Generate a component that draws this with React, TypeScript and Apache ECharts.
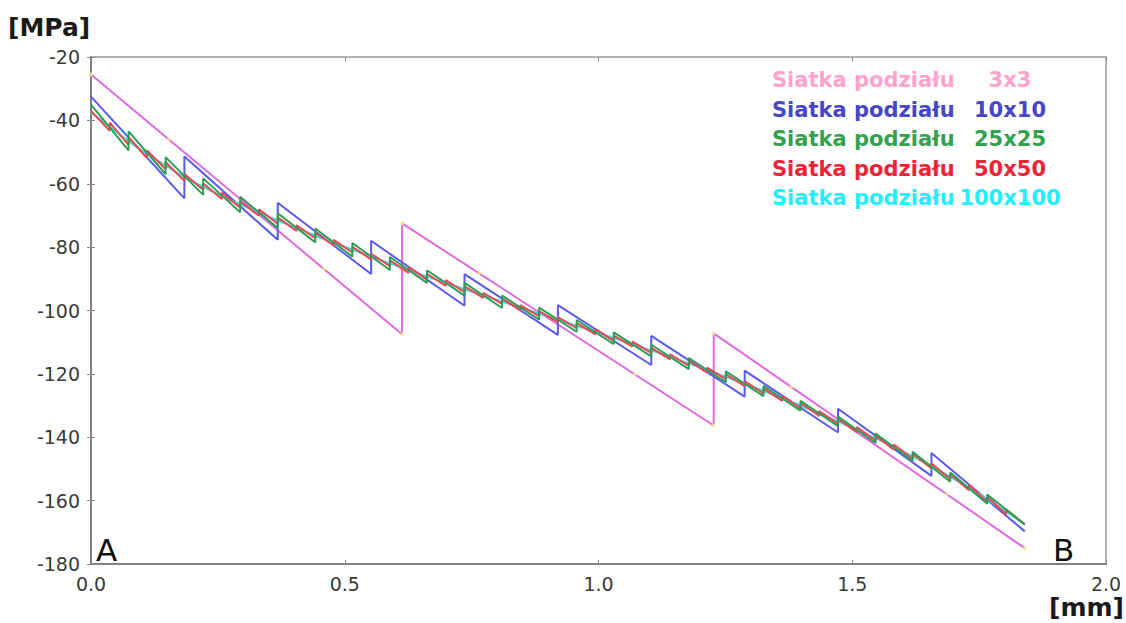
import React, { useEffect, useRef } from "react";
import * as echarts from "echarts";

// ---------- data ----------
const xTicks = ["0.0", "0.5", "1.0", "1.5", "2.0"];
const yTickValues = [-20, -40, -60, -80, -100, -120, -140, -160, -180];

// 3x3 mesh (element boundaries, start/end value in each element)
const pinkNodes = [0, 0.613, 1.227, 1.84];
const pinkStart = [-25.5, -72.5, -107.2];
const pinkEnd = [-107.5, -136.3, -175.0];
const pinkMarkX = [0, 0.153, 0.459, 0.613, 0.613, 0.766, 1.072, 1.227, 1.227, 1.379, 1.686, 1.84];
const pinkMarkY = [-25.5, -46.0, -87.0, -107.5, -72.5, -88.0, -120.0, -136.3, -107.2, -124.2, -158.0, -175.0];

// 10x10 mesh
const blueNodes = [0, 0.184, 0.368, 0.552, 0.736, 0.92, 1.104, 1.288, 1.472, 1.656, 1.84];
const blueStart = [-32.5, -51.4, -66.0, -78.0, -88.5, -98.3, -108.0, -119.0, -131.0, -145.0];
const blueEnd = [-64.6, -77.7, -88.5, -98.5, -107.7, -117.2, -127.2, -138.5, -152.2, -169.7];

// 25x25 mesh
const greenNodes = [0, 0.074, 0.147, 0.221, 0.294, 0.368, 0.442, 0.515, 0.589, 0.662, 0.736, 0.81, 0.883,
  0.957, 1.03, 1.104, 1.178, 1.251, 1.325, 1.398, 1.472, 1.546, 1.619, 1.693, 1.766, 1.84];
const greenStart = [-35.0, -43.5, -51.6, -58.3, -64.1, -69.3, -74.1, -78.7, -83.1, -87.3, -91.3, -95.3, -99.1,
  -103.0, -106.9, -110.8, -115.0, -119.2, -123.8, -128.5, -133.5, -138.8, -144.6, -151.1, -158.1];
const greenEnd = [-49.5, -57.0, -63.5, -69.0, -74.0, -78.5, -83.0, -87.2, -91.3, -95.3, -99.2, -102.9, -106.7,
  -110.6, -114.5, -118.5, -122.6, -127.0, -131.6, -136.5, -141.8, -147.5, -154.0, -161.0, -167.5];

// 50x50 mesh
const redNodes = [0, 0.037, 0.074, 0.11, 0.147, 0.184, 0.221, 0.258, 0.294, 0.331, 0.368, 0.405, 0.442, 0.478,
  0.515, 0.552, 0.589, 0.626, 0.662, 0.699, 0.736, 0.773, 0.81, 0.846, 0.883, 0.92, 0.957, 0.994, 1.03, 1.067,
  1.104, 1.141, 1.178, 1.214, 1.251, 1.288, 1.325, 1.362, 1.398, 1.435, 1.472, 1.509, 1.546, 1.582, 1.619,
  1.656, 1.693, 1.73, 1.766, 1.803, 1.84];
const redStart = [-37.0, -40.7, -45.3, -49.4, -53.2, -56.9, -59.9, -62.8, -65.6, -68.1, -70.6, -73.1, -75.4,
  -77.7, -79.9, -82.1, -84.2, -86.3, -88.4, -90.4, -92.4, -94.4, -96.3, -98.3, -100.2, -102.1, -104.0, -105.9,
  -107.9, -109.8, -111.8, -113.8, -115.9, -118.0, -120.1, -122.3, -124.6, -126.9, -129.2, -131.7, -134.2,
  -136.8, -139.5, -142.3, -145.2, -148.2, -151.6, -155.1, -158.8, -162.7];
const redEnd = [-43.3, -47.7, -51.8, -55.4, -59.1, -61.9, -64.8, -67.6, -70.1, -72.6, -74.9, -77.2, -79.5,
  -81.7, -83.9, -86.0, -88.1, -90.2, -92.2, -94.2, -96.0, -97.9, -99.9, -101.8, -103.7, -105.6, -107.5, -109.5,
  -111.4, -113.4, -115.4, -117.5, -119.6, -121.7, -123.9, -126.2, -128.5, -130.8, -133.3, -135.8, -138.4,
  -141.1, -143.9, -146.8, -149.8, -153.2, -156.7, -160.4, -164.3, -167.5];

// 100x100 mesh (read as a nearly smooth curve)
const cyanX = [0, 0.092, 0.184, 0.276, 0.368, 0.46, 0.552, 0.644, 0.736, 0.828, 0.92, 1.012, 1.104, 1.196,
  1.288, 1.38, 1.472, 1.564, 1.656, 1.748, 1.84];
const cyanY = [-37.5, -48.7, -58.0, -65.3, -71.6, -77.5, -83.0, -88.3, -93.3, -98.1, -102.9, -107.7, -112.6,
  -117.7, -123.1, -128.8, -135.0, -141.6, -149.0, -157.6, -167.5];

const legendNames = ["3x3", "10x10", "25x25", "50x50", "100x100"];
const legendColors = ["#ffa3cc", "#4646c8", "#34a24c", "#ee2436", "#22eeff"];

function sawtooth(nodes: number[], starts: number[], ends: number[]) {
  const out: number[][] = [];
  for (let i = 0; i < starts.length; i++) {
    out.push([nodes[i], starts[i]]);
    out.push([nodes[i + 1], ends[i]]);
  }
  return out;
}

export default function App() {
  const ref = useRef<HTMLDivElement>(null);
  useEffect(() => {
    if (!ref.current) return;
    const chart = echarts.init(ref.current, null, { renderer: "svg" });
    const labelFont = "DejaVu Sans";
    const legendRowY = [80, 109.5, 139, 168.5, 198];
    const graphics: any[] = [];
    legendNames.forEach((n, i) => {
      graphics.push({
        type: "text", x: 772, y: legendRowY[i],
        style: { text: "Siatka podziału", fill: legendColors[i], font: "bold 21px 'DejaVu Sans'", verticalAlign: "middle" },
      });
      graphics.push({
        type: "text", x: 1010, y: legendRowY[i],
        style: { text: n, fill: legendColors[i], font: "bold 21px 'DejaVu Sans'", align: "center", verticalAlign: "middle" },
      });
    });
    graphics.push({ type: "text", x: 8, y: 27, style: { text: "[MPa]", fill: "#1a1a1a", font: "bold 25px 'DejaVu Sans'", verticalAlign: "middle" } });
    graphics.push({ type: "text", x: 1124, y: 607, style: { text: "[mm]", fill: "#1a1a1a", font: "bold 25px 'DejaVu Sans'", align: "right", verticalAlign: "middle" } });
    graphics.push({ type: "text", x: 96, y: 565, style: { text: "A", fill: "#111", font: "31px 'DejaVu Sans'", verticalAlign: "bottom" } });
    graphics.push({ type: "text", x: 1053, y: 565, style: { text: "B", fill: "#111", font: "31px 'DejaVu Sans'", verticalAlign: "bottom" } });

    const axisCommon = {
      type: "value",
      splitLine: { show: false },
    };
    chart.setOption({
      animation: false,
      backgroundColor: "#ffffff",
      grid: { left: 91, right: 20, top: 57, bottom: 59, show: true, borderColor: "#9a9a9a", borderWidth: 1.5, backgroundColor: "transparent" },
      xAxis: [
        {
          ...axisCommon, min: 0, max: 2, interval: 0.5, position: "bottom",
          axisLine: { show: true, onZero: false, lineStyle: { color: "#808080", width: 2 } },
          axisTick: { show: true, inside: true, length: 4, lineStyle: { color: "#888" } },
          axisLabel: { margin: 10, color: "#3a3a3a", fontFamily: labelFont, fontSize: 19, formatter: (v: number) => xTicks[Math.round(v / 0.5)] ?? "" },
        },
        {
          ...axisCommon, min: 0, max: 2, interval: 0.5, position: "top",
          axisLine: { show: false },
          axisTick: { show: true, inside: true, length: 4, lineStyle: { color: "#888" } },
          axisLabel: { show: false },
        },
      ],
      yAxis: [
        {
          ...axisCommon, min: -180, max: -20, interval: 20, position: "left",
          axisLine: { show: true, onZero: false, lineStyle: { color: "#808080", width: 2 } },
          axisTick: { show: true, inside: true, length: 4, lineStyle: { color: "#888" } },
          axisLabel: { margin: 11, color: "#3a3a3a", fontFamily: labelFont, fontSize: 19, formatter: (v: number) => (yTickValues.includes(v) ? String(v) : "") },
        },
        {
          ...axisCommon, min: -180, max: -20, interval: 20, position: "right",
          axisLine: { show: false },
          axisTick: { show: true, inside: true, length: 4, lineStyle: { color: "#888" } },
          axisLabel: { show: false },
        },
      ],
      series: [
        {
          name: "3x3", type: "line", data: sawtooth(pinkNodes, pinkStart, pinkEnd), showSymbol: false,
          lineStyle: { color: "#dd6ae0", width: 2 }, z: 2,
        },
        {
          name: "3x3 points", type: "scatter", data: pinkMarkX.map((x, i) => [x, pinkMarkY[i]]),
          symbol: "diamond", symbolSize: 5, itemStyle: { color: "#f2ee8a" }, z: 3,
        },
        {
          name: "10x10", type: "line", data: sawtooth(blueNodes, blueStart, blueEnd), showSymbol: false,
          lineStyle: { color: "#5a5af0", width: 2 }, z: 4,
        },
        {
          name: "100x100", type: "line", data: cyanX.map((x, i) => [x, cyanY[i]]), showSymbol: false,
          lineStyle: { color: "#3adcdc", width: 2 }, z: 5,
        },
        {
          name: "50x50", type: "line", data: sawtooth(redNodes, redStart, redEnd), showSymbol: false,
          lineStyle: { color: "#ee4455", width: 2 }, z: 6,
        },
        {
          name: "25x25", type: "line", data: sawtooth(greenNodes, greenStart, greenEnd), showSymbol: false,
          lineStyle: { color: "#2f9e55", width: 2 }, z: 7,
        },
      ],
      graphic: graphics,
    });
    return () => chart.dispose();
  }, []);
  return <div ref={ref} style={{ position: "fixed", left: 0, top: 0, width: 1126, height: 623 }} />;
}
